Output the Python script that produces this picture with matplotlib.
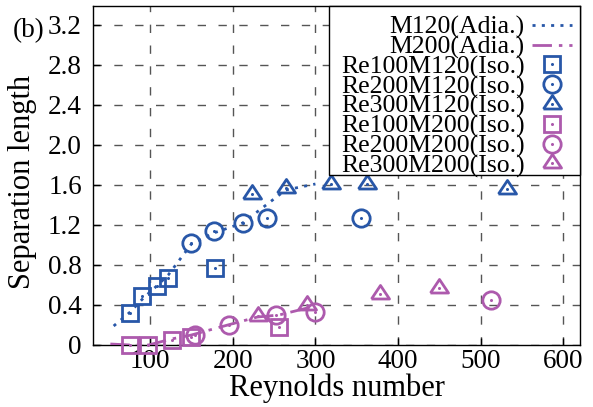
import matplotlib
matplotlib.use('Agg')
import matplotlib.pyplot as plt
from matplotlib.patches import Rectangle
from matplotlib.ticker import FixedLocator, FuncFormatter

plt.rcParams['font.family'] = ['Liberation Serif', 'DejaVu Serif']
plt.rcParams['lines.scale_dashes'] = False

blue = '#2857a8'
purple = '#ad5aad'

# adiabatic runs (lines)
re_adia_m120 = [56, 76, 92, 108, 122, 150, 177, 212, 264, 300]
sep_adia_m120 = [0.19, 0.33, 0.47, 0.59, 0.70, 1.01, 1.12, 1.22, 1.55, 1.61]
re_adia_m200 = [52, 76, 98, 126, 150, 194, 230, 256, 300]
sep_adia_m200 = [0.01, 0.0, 0.0, 0.06, 0.10, 0.20, 0.28, 0.30, 0.39]

# isothermal runs (markers)
re_re100_m120 = [76, 90, 108, 122, 178]
sep_re100_m120 = [0.32, 0.49, 0.59, 0.67, 0.77]
re_re200_m120 = [150, 177, 212, 242, 355]
sep_re200_m120 = [1.02, 1.14, 1.22, 1.27, 1.27]
re_re300_m120 = [223, 264, 319, 362, 532]
sep_re300_m120 = [1.51, 1.57, 1.61, 1.61, 1.56]
re_re100_m200 = [76, 98, 126, 150, 256]
sep_re100_m200 = [0.0, 0.0, 0.05, 0.08, 0.18]
re_re200_m200 = [154, 196, 252, 300, 512]
sep_re200_m200 = [0.10, 0.20, 0.30, 0.33, 0.45]
re_re300_m200 = [230, 290, 378, 449]
sep_re300_m200 = [0.29, 0.40, 0.51, 0.57]

xticks = [100, 200, 300, 400, 500, 600]
yticks = [0, 0.4, 0.8, 1.2, 1.6, 2.0, 2.4, 2.8, 3.2]

tri = [(-1, -0.5), (1, -0.5), (0, 1), (-1, -0.5)]

fig = plt.figure(figsize=(5.93, 4.07), dpi=100)
ax = fig.add_axes([93/593, 1-345/407, 487/593, 339/407])

l1, = ax.plot(re_adia_m120, sep_adia_m120, color=blue, lw=2.0,
              linestyle=(0, (2.2, 4.5)), zorder=3)
l2, = ax.plot(re_adia_m200, sep_adia_m200, color=purple, lw=2.0,
              linestyle=(0, (14, 5, 2.5, 5)), zorder=3)


def open_pts(x, y, color, marker, ms):
    m, = ax.plot(x, y, ls='none', marker=marker, ms=ms, mfc='none',
                 mec=color, mew=2.0, clip_on=False, zorder=4)
    d, = ax.plot(x, y, ls='none', marker='o', ms=2.2, mfc=color,
                 mec=color, mew=0, clip_on=False, zorder=4)
    return (m, d)


h3 = open_pts(re_re100_m120, sep_re100_m120, blue, 's', 11)
h4 = open_pts(re_re200_m120, sep_re200_m120, blue, 'o', 12.5)
h5 = open_pts(re_re300_m120, sep_re300_m120, blue, tri, 13)
h6 = open_pts(re_re100_m200, sep_re100_m200, purple, 's', 11)
h7 = open_pts(re_re200_m200, sep_re200_m200, purple, 'o', 12.5)
h8 = open_pts(re_re300_m200, sep_re300_m200, purple, tri, 13)

ax.set_xlim(31, 620)
ax.set_ylim(0, 3.39)
ax.xaxis.set_major_locator(FixedLocator(xticks))
ax.yaxis.set_major_locator(FixedLocator(yticks))
ax.yaxis.set_major_formatter(FuncFormatter(lambda v, _: '0' if v == 0 else f'{v:.1f}'))

ax.grid(True, color='#555555', lw=1.0, linestyle=(0, (6, 9)))
ax.set_axisbelow(True)
ax.tick_params(direction='in', length=5, width=1, labelsize=19.5)
ax.tick_params(axis='x', pad=3)
ax.tick_params(axis='y', pad=8)
for s in ax.spines.values():
    s.set_linewidth(1.0)

ax.set_xlabel('Reynolds number', fontsize=22, va='baseline')
ax.xaxis.set_label_coords(0.5, (345-396)/339)
ax.set_ylabel('Separation length', fontsize=22, va='baseline')
ax.yaxis.set_label_coords((30-93)/487, (345-182)/339)

fig.text(13/593, 1-37/407, '(b)', fontsize=19.5, va='baseline', ha='left')

# legend box drawn separately so it can be tighter at the bottom
box = Rectangle((329/593, 1-175/407), 251/593, 169/407, transform=fig.transFigure,
                facecolor='white', edgecolor='black', lw=1.0, zorder=4.5, clip_on=False)
ax.add_patch(box)

labels = ['M120(Adia.)', 'M200(Adia.)', 'Re100M120(Iso.)', 'Re200M120(Iso.)',
          'Re300M120(Iso.)', 'Re100M200(Iso.)', 'Re200M200(Iso.)', 'Re300M200(Iso.)']
leg = ax.legend([l1, l2, h3, h4, h5, h6, h7, h8], labels, loc='upper right',
                bbox_to_anchor=(1, 1 - 2/339), markerfirst=False, fontsize=18.5,
                frameon=False, borderaxespad=0, handlelength=1.55,
                handletextpad=0.3, labelspacing=-0.14, borderpad=0.3)
leg.set_zorder(5)

fig.savefig('out.png', dpi=100)
